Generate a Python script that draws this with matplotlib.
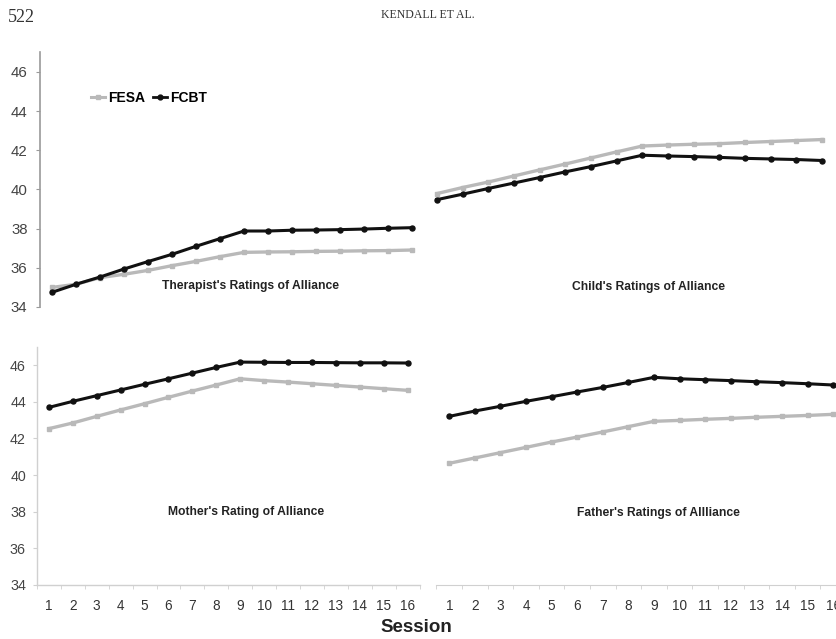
import matplotlib
matplotlib.use("Agg")
import matplotlib.pyplot as plt
from matplotlib.lines import Line2D

sessions = list(range(1, 17))
session_labels = [str(s) for s in sessions]
y_ticks = [34, 36, 38, 40, 42, 44, 46]

therapist_fesa = [35.0, 35.16, 35.5, 35.67, 35.87, 36.11, 36.33, 36.57, 36.79,
                  36.81, 36.82, 36.84, 36.85, 36.87, 36.88, 36.91]
therapist_fcbt = [34.75, 35.16, 35.53, 35.94, 36.32, 36.69, 37.1, 37.49, 37.88,
                  37.88, 37.92, 37.93, 37.95, 37.98, 38.02, 38.05]

child_fesa = [39.79, 40.1, 40.38, 40.69, 41.0, 41.3, 41.61, 41.92, 42.22,
              42.27, 42.31, 42.34, 42.4, 42.45, 42.5, 42.55]
child_fcbt = [39.48, 39.76, 40.05, 40.33, 40.61, 40.9, 41.17, 41.46, 41.75,
              41.71, 41.68, 41.64, 41.59, 41.56, 41.53, 41.48]

mother_fesa = [42.53, 42.84, 43.2, 43.55, 43.89, 44.24, 44.58, 44.91, 45.25,
               45.15, 45.07, 44.98, 44.89, 44.8, 44.71, 44.62]
mother_fcbt = [43.69, 44.02, 44.33, 44.64, 44.95, 45.25, 45.56, 45.87, 46.16,
               46.15, 46.14, 46.14, 46.13, 46.12, 46.12, 46.11]

father_fesa = [40.64, 40.93, 41.22, 41.51, 41.8, 42.07, 42.35, 42.64, 42.93,
               42.98, 43.04, 43.09, 43.15, 43.2, 43.25, 43.31]
father_fcbt = [43.2, 43.49, 43.75, 44.02, 44.27, 44.53, 44.78, 45.05, 45.33,
               45.25, 45.2, 45.15, 45.09, 45.04, 44.98, 44.91]

panel_titles = ["Therapist's Ratings of Alliance", "Child's Ratings of Alliance",
                "Mother's Rating of Alliance", "Father's Ratings of Allliance"]
series_names = ["FESA", "FCBT"]

W, H = 836, 639
fig = plt.figure(figsize=(W / 100, H / 100), dpi=100)
fig.patch.set_facecolor("white")
plt.rcParams["font.family"] = ["Liberation Sans", "DejaVu Sans"]

GRAY = "#b9b9b9"
BLACK = "#111111"
SPINE = "#9a9a9a"


def add_ax(left, right, top, bottom):
    return fig.add_axes([left / W, 1 - bottom / H, (right - left) / W, (bottom - top) / H])


def draw(ax, fesa, fcbt, title, tx, ty):
    ax.plot(sessions, fesa, color=GRAY, lw=2.4, marker="s", ms=3.2, mec=GRAY, mfc=GRAY,
            label=series_names[0], zorder=2)
    ax.plot(sessions, fcbt, color=BLACK, lw=2.2, marker="o", ms=3.6, mec=BLACK, mfc=BLACK,
            label=series_names[1], zorder=3)
    ax.set_xlim(0.5, 16.5)
    ax.set_ylim(34, 47)
    for s in ax.spines.values():
        s.set_visible(False)
    ax.set_facecolor("none")
    ax.text(tx, ty, title, transform=fig.transFigure, ha="center", va="center",
            fontsize=8.7, fontweight="bold", color="#222222")


# top-left
ax_tl = add_ax(40, 424, 52.4, 307)
draw(ax_tl, therapist_fesa, therapist_fcbt, panel_titles[0], 251 / W, 1 - 286 / H)
ax_tl.spines["left"].set_visible(True)
ax_tl.spines["left"].set_color(SPINE)
ax_tl.spines["left"].set_linewidth(1.2)
ax_tl.set_yticks(y_ticks)
ax_tl.tick_params(axis="y", length=3, color=SPINE, labelsize=10.8, labelcolor="#444444", pad=6)
ax_tl.set_xticks([])

# top-right
ax_tr = add_ax(424, 835, 52.4, 307)
draw(ax_tr, child_fesa, child_fcbt, panel_titles[1], 649 / W, 1 - 287 / H)
ax_tr.set_xticks([])
ax_tr.set_yticks([])

# bottom-left
ax_bl = add_ax(37, 419.5, 346.7, 585)
draw(ax_bl, mother_fesa, mother_fcbt, panel_titles[2], 246 / W, 1 - 512 / H)
ax_bl.spines["left"].set_visible(True)
ax_bl.spines["bottom"].set_visible(True)
for k in ("left", "bottom"):
    ax_bl.spines[k].set_color("#d0d0d0")
    ax_bl.spines[k].set_linewidth(1.0)
ax_bl.set_yticks(y_ticks)
ax_bl.tick_params(axis="y", length=3, color="#d0d0d0", labelsize=10.3, labelcolor="#444444", pad=5)

# bottom-right
ax_br = add_ax(436.5, 846, 346.7, 585)
draw(ax_br, father_fesa, father_fcbt, panel_titles[3], 658 / W, 1 - 513 / H)
ax_br.spines["bottom"].set_visible(True)
ax_br.spines["bottom"].set_color("#d0d0d0")
ax_br.set_yticks([])

for ax in (ax_bl, ax_br):
    ax.set_xticks(sessions)
    ax.set_xticklabels(session_labels)
    ax.set_xticks([s + 0.5 for s in [0] + sessions], minor=True)
    ax.tick_params(axis="x", which="major", length=0, labelsize=9.8, labelcolor="#333333", pad=10)
    ax.tick_params(axis="x", which="minor", length=3, color="#d0d0d0")

# legend
handles = [Line2D([], [], color=GRAY, lw=2.2, marker="s", ms=3, mec=GRAY, mfc=GRAY),
           Line2D([], [], color=BLACK, lw=2.0, marker="o", ms=3.5, mec=BLACK, mfc=BLACK)]
fig.legend(handles, series_names, loc="center left", bbox_to_anchor=(91 / W, 1 - 98 / H),
           ncol=2, frameon=False, handlelength=1.0, handletextpad=0.2, columnspacing=0.6,
           prop={"weight": "bold", "size": 10}, borderaxespad=0, borderpad=0)

# page header and axis label
fig.text(8 / W, 1 - 17 / H, "522", family="Liberation Serif", fontsize=13,
         ha="left", va="center", color="#333333")
fig.text(428 / W, 1 - 15 / H, "KENDALL ET AL.", family="Liberation Serif", fontsize=8.5,
         ha="center", va="center", color="#333333")
fig.text(416 / W, 1 - 628 / H, "Session", fontsize=13.5, fontweight="bold",
         ha="center", va="center", color="#222222")

fig.savefig("out.png", dpi=100, facecolor="white")
